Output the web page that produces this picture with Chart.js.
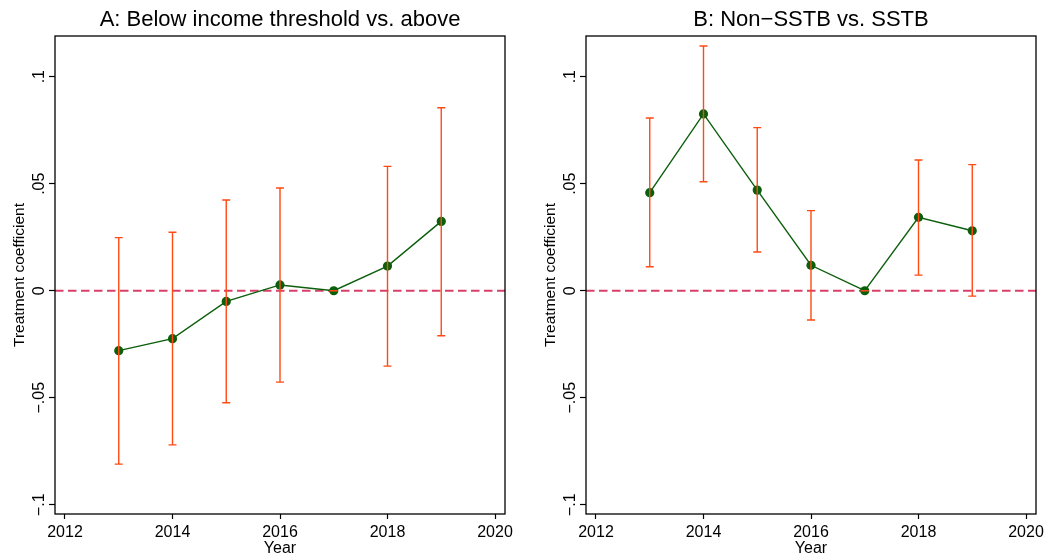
<!DOCTYPE html>
<html>
<head>
<meta charset="utf-8">
<script src="https://cdn.jsdelivr.net/npm/chart.js@4"></script>
<style>
  body { margin: 0; background: #fff; }
  #wrap { position: relative; width: 1050px; height: 555px; overflow: hidden; }
  canvas { position: absolute; top: 0; }
</style>
</head>
<body>
<div id="wrap">
  <canvas id="chartA" width="525" height="555" style="left:0"></canvas>
  <canvas id="chartB" width="519" height="555" style="left:531px"></canvas>
</div>
<script>
// event-study estimates
const years = [2013, 2014, 2015, 2016, 2017, 2018, 2019];

const coefA  = [-0.028, -0.0224, -0.005, 0.0027, 0, 0.0115, 0.0324];
const lowerA = [-0.081, -0.072, -0.0523, -0.0427, 0, -0.0352, -0.021];
const upperA = [0.0248, 0.0273, 0.0424, 0.048, 0, 0.0581, 0.0855];

const coefB  = [0.0458, 0.0826, 0.047, 0.0119, 0, 0.0343, 0.028];
const lowerB = [0.0112, 0.0509, 0.0181, -0.0137, 0, 0.0073, -0.0025];
const upperB = [0.0807, 0.1143, 0.0762, 0.0374, 0, 0.0611, 0.0589];

const xTicks = [2012, 2014, 2016, 2018, 2020];
const yTicks = [-0.1, -0.05, 0, 0.05, 0.1];
const yTickLabels = ['\u2212.1', '\u2212.05', '0', '.05', '.1'];

const titleA = 'A: Below income threshold vs. above';
const titleB = 'B: Non\u2212SSTB vs. SSTB';

const GREEN = '#0b5e0b';
const ORANGE = '#ff4a12';
const PINK = '#d8406a';
const FONT = "'Liberation Sans', Arial, Helvetica, sans-serif";

// box round the plot region, dashed zero line, CI whiskers
const stataPlugin = {
  id: 'stata',
  beforeDatasetsDraw(chart) {
    const ctx = chart.ctx, a = chart.chartArea;
    const y0 = chart.scales.y.getPixelForValue(0);
    ctx.save();
    ctx.strokeStyle = PINK;
    ctx.lineWidth = 1.8;
    ctx.setLineDash([8.5, 4.5]);
    ctx.beginPath();
    ctx.moveTo(a.left, y0);
    ctx.lineTo(a.right, y0);
    ctx.stroke();
    ctx.restore();
  },
  afterDatasetsDraw(chart) {
    const ctx = chart.ctx, a = chart.chartArea;
    const xs = chart.scales.x, ys = chart.scales.y;
    const ci = chart.options.plugins.stata;
    ctx.save();
    ctx.strokeStyle = ORANGE;
    ctx.lineWidth = 1.4;
    years.forEach(function (yr, i) {
      const px = xs.getPixelForValue(yr);
      const lo = ys.getPixelForValue(ci.lower[i]);
      const hi = ys.getPixelForValue(ci.upper[i]);
      ctx.beginPath();
      ctx.moveTo(px, lo); ctx.lineTo(px, hi);
      ctx.moveTo(px - 4, lo); ctx.lineTo(px + 4, lo);
      ctx.moveTo(px - 4, hi); ctx.lineTo(px + 4, hi);
      ctx.stroke();
    });
    ctx.strokeStyle = '#000';
    ctx.lineWidth = 1.3;
    ctx.strokeRect(a.left, a.top, a.right - a.left, a.bottom - a.top);
    ctx.restore();
  }
};

function makeChart(id, title, coef, lower, upper, rightPad) {
  const ctx = document.getElementById(id).getContext('2d');
  return new Chart(ctx, {
    type: 'line',
    data: {
      datasets: [{
        data: years.map((yr, i) => ({ x: yr, y: coef[i] })),
        borderColor: GREEN,
        borderWidth: 1.4,
        backgroundColor: GREEN,
        pointRadius: 4.6,
        pointBorderWidth: 0,
        tension: 0
      }]
    },
    options: {
      responsive: false,
      animation: false,
      layout: { padding: { left: 0, right: rightPad, top: 0, bottom: 0 } },
      plugins: {
        legend: { display: false },
        tooltip: { enabled: false },
        title: {
          display: true,
          text: title,
          fullSize: false,
          color: '#000',
          font: { family: FONT, size: 22, weight: 'normal', lineHeight: 1.2 },
          padding: { top: 7, bottom: 2.6 }
        },
        stata: { lower: lower, upper: upper }
      },
      scales: {
        x: {
          type: 'linear',
          min: 2011.814,
          max: 2020.186,
          afterBuildTicks: s => { s.ticks = xTicks.map(v => ({ value: v })); },
          afterFit: s => { s.height = 41; },
          border: { display: false },
          grid: { drawOnChartArea: false, tickLength: 5, tickColor: '#000', tickWidth: 1.2 },
          ticks: {
            color: '#000', padding: 4,
            maxRotation: 0, minRotation: 0,
            font: { family: FONT, size: 16 },
            callback: v => String(v)
          },
          title: {
            display: true, text: 'Year', color: '#000',
            font: { family: FONT, size: 16, lineHeight: 1 },
            padding: { top: 0, bottom: -2 }
          }
        },
        y: {
          min: -0.1043,
          max: 0.119,
          afterBuildTicks: s => { s.ticks = yTicks.map(v => ({ value: v })); },
          afterFit: s => { s.width = 55; },
          border: { display: false },
          grid: { drawOnChartArea: false, tickLength: 6, tickColor: '#000', tickWidth: 1.2 },
          ticks: {
            color: '#000', padding: -6,
            minRotation: 90, maxRotation: 90,
            crossAlign: 'center',
            font: { family: FONT, size: 16 },
            callback: v => yTickLabels[yTicks.indexOf(v)]
          },
          title: {
            display: true, text: 'Treatment coefficient', color: '#000',
            font: { family: FONT, size: 15.5, lineHeight: 1.2 },
            padding: { top: 10, bottom: 0 }
          }
        }
      }
    },
    plugins: [stataPlugin]
  });
}

makeChart('chartA', titleA, coefA, lowerA, upperA, 20);
makeChart('chartB', titleB, coefB, lowerB, upperB, 14);
</script>
</body>
</html>
